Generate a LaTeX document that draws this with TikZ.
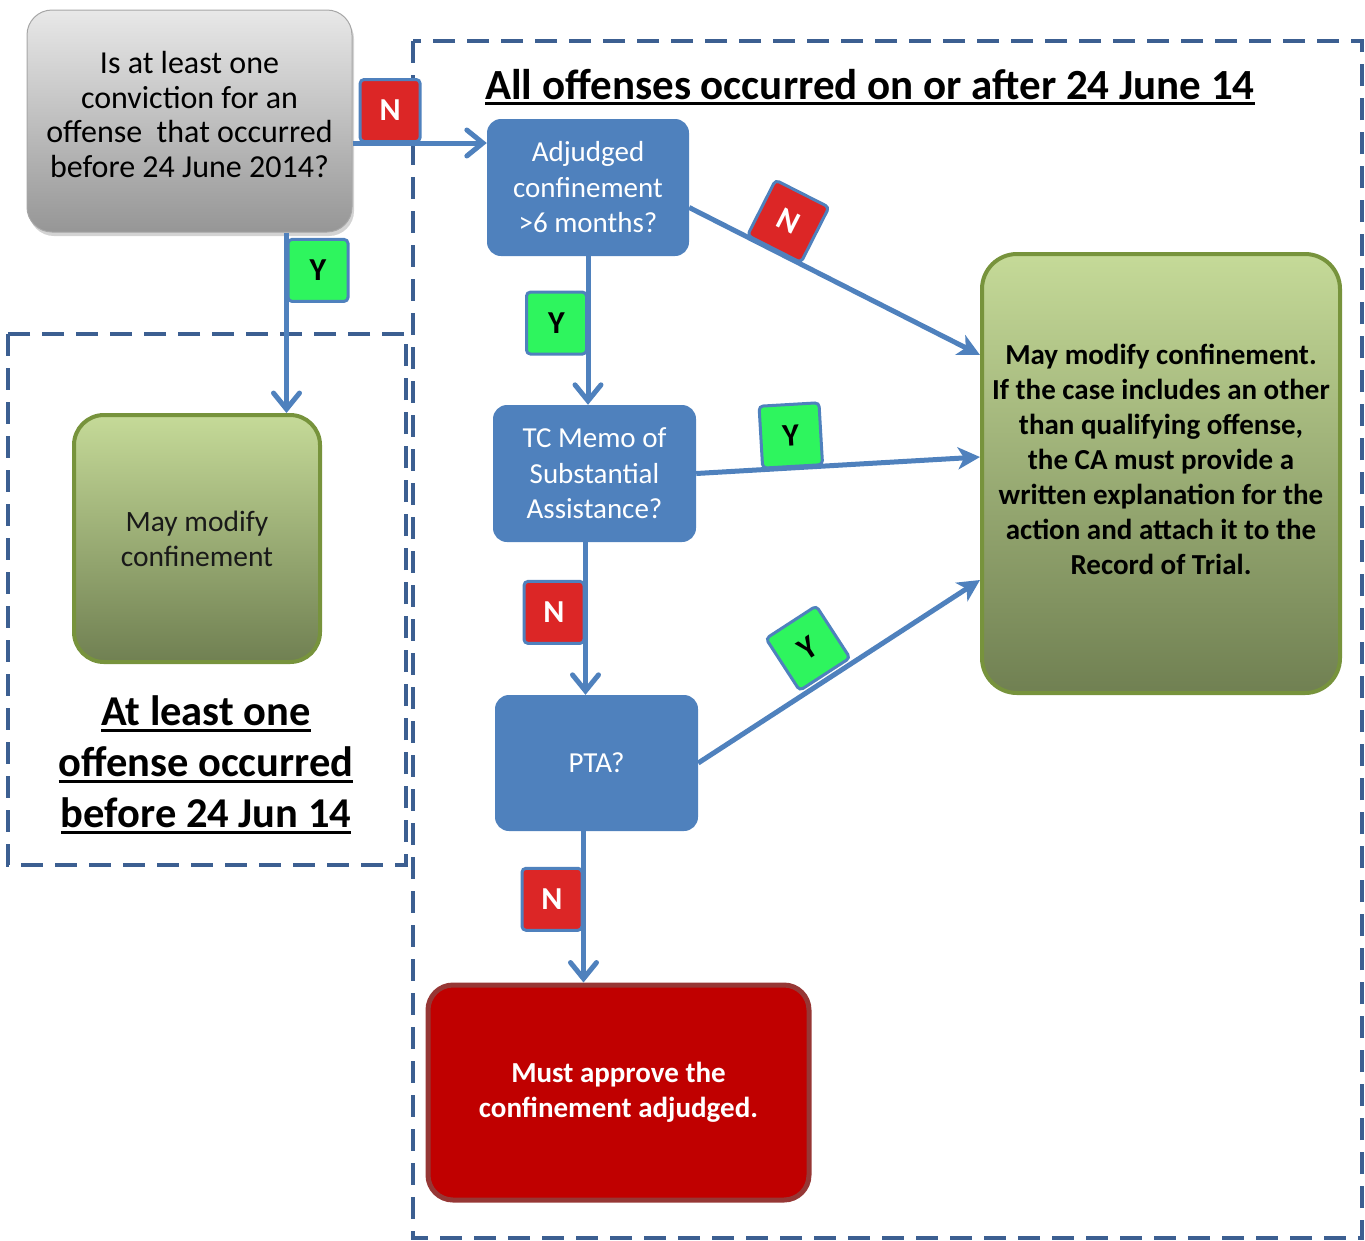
\documentclass[tikz,border=0pt]{standalone}
\usepackage{fontspec}
\setmainfont{Carlito}
\usetikzlibrary{arrows.meta,shadows}
\definecolor{flowblue}{RGB}{79,129,189}
\definecolor{frameblue}{RGB}{60,95,145}
\definecolor{tagred}{RGB}{220,38,38}
\definecolor{taggreen}{RGB}{46,245,94}
\definecolor{leafedge}{RGB}{119,147,60}
\definecolor{leaftop}{RGB}{197,218,152}
\definecolor{leafbot}{RGB}{112,128,82}
\definecolor{stopred}{RGB}{192,0,0}
\definecolor{stopedge}{RGB}{150,55,53}
\definecolor{asktop}{RGB}{232,232,232}
\definecolor{askbot}{RGB}{150,150,150}
\newcommand{\fsz}[2]{\fontsize{#1}{#2}\selectfont}
\newcommand{\uln}[1]{\setbox0\hbox{#1}\rlap{\rule[-6pt]{\wd0}{3pt}}\box0}

\begin{document}
\begin{tikzpicture}[x=1pt, y=-1pt,
	frame/.style={draw=frameblue, line width=4.5pt, dash pattern=on 22pt off 12pt},
	askbox/.style={fill=flowblue, rounded corners=14pt, text=white, align=center, font=\fsz{29}{35.5}, minimum width=202pt, minimum height=137pt},
	leaf/.style={draw=leafedge, line width=4pt, top color=leaftop, bottom color=leafbot, align=center},
	tag/.style={draw=flowblue, line width=3pt, rounded corners=4pt, minimum width=60pt, minimum height=62pt, inner sep=0pt, font=\bfseries\fsz{32}{32}},
	ntag/.style={tag, fill=tagred, text=white},
	ytag/.style={tag, fill=taggreen, text=black},
	flow/.style={draw=flowblue, line width=5pt, -{Straight Barb[length=16pt, width=26pt, line cap=round]}},
	slant/.style={draw=flowblue, line width=5pt, -{Stealth[length=22pt, width=22pt, inset=6pt]}}]
	\useasboundingbox (0,0) rectangle (1365,1240);
	% the two date ranges
	\draw[frame] (413,41) rectangle (1362,1238);
	\draw[frame] (8,334) rectangle (406,865);
	\node[font=\bfseries\fsz{43}{50}] (after) at (870,87) {\uln{All offenses occurred on or after 24 June 14}};
	\node[font=\bfseries\fsz{42.5}{51}, align=center] (before) at (206,765) {\uln{At least one}\\\uln{offense occurred}\\\uln{before 24 Jun 14}};

	\node[draw=gray!70, line width=1pt, top color=asktop, bottom color=askbot, rounded corners=25pt, minimum width=325pt, minimum height=222pt, align=center, font=\fsz{32}{34.5}, drop shadow={opacity=0.35, shadow xshift=2pt, shadow yshift=-4pt}] (q) at (189.5,121) {Is at least one\\conviction for an\\offense\ \ that occurred\\before 24 June 2014?\\[-21pt]\mbox{}};
	\node[askbox] (adj) at (588,187.5) {Adjudged\\confinement\\>6 months?};
	\node[askbox, minimum width=203pt] (tc) at (594.5,473.5) {TC Memo of\\Substantial\\Assistance?};
	\node[askbox, minimum width=203pt, minimum height=136pt] (pta) at (596.5,763) {PTA?};
	\node[fill=stopred, draw=stopedge, line width=5pt, rounded corners=25pt, minimum width=381pt, minimum height=215pt, text=white, align=center, font=\bfseries\fsz{29}{35}] (res) at (618.5,1092.5) {Must approve the\\confinement adjudged.};
	\node[leaf, rounded corners=35pt, minimum width=358pt, minimum height=439pt, font=\bfseries\fsz{29}{35}] (rg) at (1161,473.5) {May modify confinement.\\If the case includes an other\\than qualifying offense,\\the CA must provide a\\written explanation for the\\action and attach it to the\\Record of Trial.\\[-7pt]\mbox{}};
	\node[leaf, rounded corners=30pt, minimum width=246pt, minimum height=247pt, text=black!90, font=\fsz{29.5}{35}] (lg) at (197,538.5) {May modify\\confinement};

	\draw[flow] ([yshift=-22pt]q.east) -- ([yshift=-22pt]q.east -| adj.west) node[ntag, pos=0.28, anchor=south] {N};
	\draw[flow] ([xshift=97pt]q.south) -- ([xshift=97pt]q.south |- lg.north) node[ytag, pos=0.21, anchor=west] {Y};
	\draw[flow] (adj.south) -- (adj.south |- tc.north) node[ytag, pos=0.45, anchor=east] {Y};
	\draw[flow] ([xshift=-9pt]tc.south) -- ([xshift=-9pt]tc.south |- pta.north) node[ntag, pos=0.46, anchor=east] {N};
	\draw[flow] ([xshift=-13pt]pta.south) -- ([xshift=-13pt]pta.south |- res.north) node[ntag, pos=0.45, anchor=east] {N};
	\draw[slant] ([yshift=-20pt]adj.east) -- ([yshift=118.5pt]rg.west) node[ntag, pos=0.29, sloped, anchor=south] {N};
	\draw[slant] (tc.east) -- ([yshift=16.5pt]rg.west) node[ytag, pos=0.34, sloped, anchor=south] {Y};
	\draw[slant] (pta.east) -- ([yshift=-106.5pt]rg.west) node[ytag, pos=0.46, sloped, anchor=south, yshift=4pt] {Y};
\end{tikzpicture}
\end{document}
